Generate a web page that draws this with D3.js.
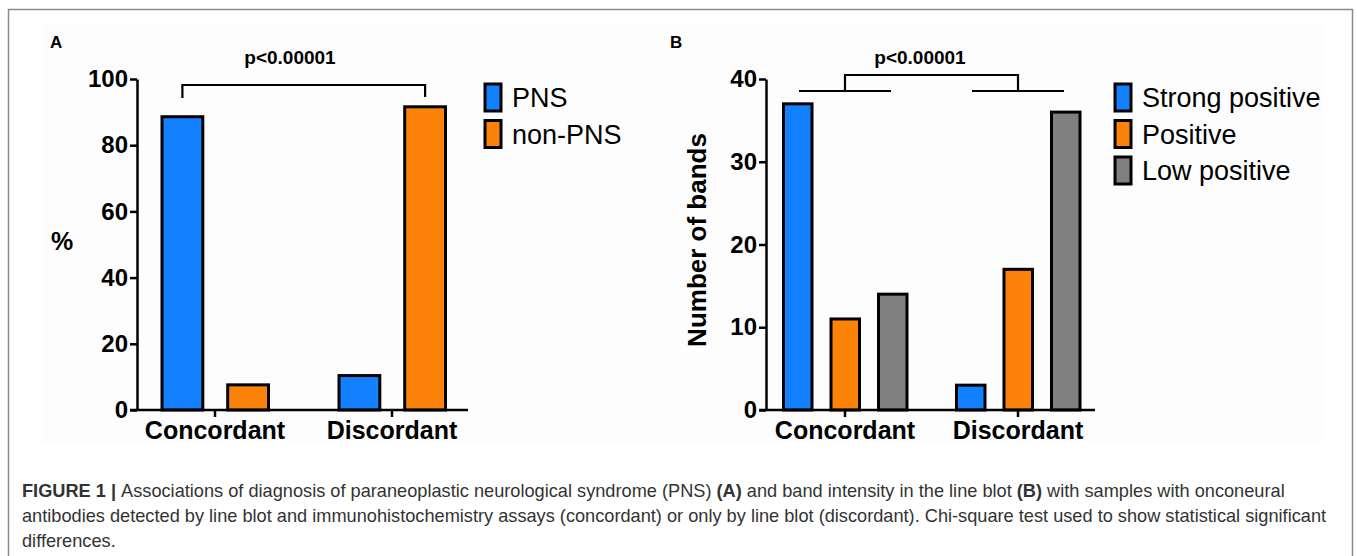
<!DOCTYPE html>
<html>
<head>
<meta charset="utf-8">
<script src="https://cdn.jsdelivr.net/npm/d3@7"></script>
<style>
  body { margin: 0; background: #fff; }
  svg { display: block; }
</style>
</head>
<body>
<div id="figure"></div>
<script>
// Panel A data
const categories = ['Concordant', 'Discordant'];
const seriesA = ['PNS', 'non-PNS'];
const pnsValues = [88.6, 10.4];
const nonPnsValues = [7.6, 91.6];
const ticksA = [0, 20, 40, 60, 80, 100];

// Panel B data
const seriesB = ['Strong positive', 'Positive', 'Low positive'];
const strongValues = [37, 3];
const positiveValues = [11, 17];
const lowValues = [14, 36];
const ticksB = [0, 10, 20, 30, 40];

const pValue = 'p<0.00001';

const colors = {
    'PNS': '#1380ff',
    'non-PNS': '#fd8209',
    'Strong positive': '#1380ff',
    'Positive': '#fd8209',
    'Low positive': '#808080'
};

const width = 1357;
const height = 556;

const svg = d3.select('#figure')
    .append('svg')
    .attr('width', width)
    .attr('height', height);

// Figure frame and faint image background
svg.append('rect')
    .attr('x', 8.5).attr('y', 9.5)
    .attr('width', 1344).attr('height', 600)
    .attr('fill', '#fff')
    .attr('stroke', '#8a8a8a')
    .attr('stroke-width', 1.5);

svg.append('rect')
    .attr('x', 42).attr('y', 25)
    .attr('width', 1280).attr('height', 418)
    .attr('fill', '#fdfdfd');

const boldFont = 'Liberation Sans, Arial, Helvetica, sans-serif';

function drawPanel(opts) {
    const g = svg.append('g');
    const y = d3.scaleLinear().domain(opts.yDomain).range([410, 79]);

    const x0 = d3.scaleBand()
        .domain(categories)
        .range(opts.xRange);

    const x1 = d3.scaleBand()
        .domain(opts.series)
        .range(opts.innerRange)
        .paddingInner(opts.innerPad);

    // Bars
    opts.series.forEach((s, si) => {
        g.selectAll('.bar-' + si)
            .data(categories.map((c, i) => ({ c: c, v: opts.values[si][i] })))
            .enter().append('rect')
            .attr('x', d => x0(d.c) + x1(s))
            .attr('y', d => y(d.v))
            .attr('width', x1.bandwidth())
            .attr('height', d => y(0) - y(d.v))
            .attr('fill', colors[s])
            .attr('stroke', '#000')
            .attr('stroke-width', 3);
    });

    // Y axis
    const yAxis = g.append('g')
        .attr('transform', `translate(${opts.axisX},0)`)
        .call(d3.axisLeft(y).tickValues(opts.ticks).tickSize(7).tickSizeOuter(0).tickPadding(2));
    yAxis.select('.domain').attr('stroke', '#000').attr('stroke-width', 2.5);
    yAxis.selectAll('.tick line').attr('stroke', '#000').attr('stroke-width', 2.5);
    yAxis.selectAll('text')
        .attr('font-family', boldFont)
        .attr('font-weight', 'bold')
        .attr('font-size', '24px')
        .attr('fill', '#000');

    // X axis
    const xAxis = g.append('g')
        .attr('transform', 'translate(0,410)')
        .call(d3.axisBottom(x0).tickSize(7).tickSizeOuter(0).tickPadding(4));
    xAxis.select('.domain')
        .attr('d', `M${opts.axisX - 7},0H${opts.xEnd}`)
        .attr('stroke', '#000').attr('stroke-width', 2.5);
    xAxis.selectAll('.tick line').attr('stroke', '#000').attr('stroke-width', 2.5);
    xAxis.selectAll('text')
        .attr('font-family', boldFont)
        .attr('font-weight', 'bold')
        .attr('font-size', '25px')
        .attr('fill', '#000');

    // Panel letter
    g.append('text')
        .attr('x', opts.letterX).attr('y', 48)
        .attr('font-family', boldFont)
        .attr('font-weight', 'bold')
        .attr('font-size', '17px')
        .text(opts.letter);

    // Significance label
    g.append('text')
        .attr('x', opts.pX).attr('y', 64)
        .attr('text-anchor', 'middle')
        .attr('font-family', boldFont)
        .attr('font-weight', 'bold')
        .attr('font-size', '19px')
        .text(pValue);

    // Legend
    const legend = g.append('g')
        .attr('transform', `translate(${opts.legendX},84)`);
    opts.series.forEach((s, i) => {
        legend.append('rect')
            .attr('x', 0).attr('y', i * 36.5)
            .attr('width', 16).attr('height', 27)
            .attr('fill', colors[s])
            .attr('stroke', '#000')
            .attr('stroke-width', 3);
        legend.append('text')
            .attr('x', 27).attr('y', i * 36.5 + 23)
            .attr('font-family', 'Liberation Sans, Arial, sans-serif')
            .attr('font-size', '27px')
            .attr('fill', '#000')
            .text(s);
    });

    return { g: g, x0: x0, x1: x1, y: y };
}

// Panel A
const panelA = drawPanel({
    letter: 'A', letterX: 50,
    series: seriesA,
    values: [pnsValues, nonPnsValues],
    yDomain: [0, 100],
    ticks: ticksA,
    axisX: 137, xEnd: 468,
    xRange: [126.5, 480.5],
    innerRange: [35.5, 142],
    innerPad: 0.379,
    pX: 290,
    legendX: 485
});

panelA.g.append('text')
    .attr('x', 62).attr('y', 250)
    .attr('text-anchor', 'middle')
    .attr('font-family', boldFont)
    .attr('font-weight', 'bold')
    .attr('font-size', '25px')
    .text('%');

// Bracket A: from top of PNS concordant to top of non-PNS discordant
const bxA1 = panelA.x0('Concordant') + panelA.x1('PNS') + panelA.x1.bandwidth() / 2;
const bxA2 = panelA.x0('Discordant') + panelA.x1('non-PNS') + panelA.x1.bandwidth() / 2;
panelA.g.append('path')
    .attr('d', `M${bxA1},98V85H${bxA2}V97`)
    .attr('fill', 'none')
    .attr('stroke', '#000')
    .attr('stroke-width', 2.2);

// Panel B
const panelB = drawPanel({
    letter: 'B', letterX: 670,
    series: seriesB,
    values: [strongValues, positiveValues, lowValues],
    yDomain: [0, 40],
    ticks: ticksB,
    axisX: 766, xEnd: 1095,
    xRange: [758.5, 1104.5],
    innerRange: [25, 148.5],
    innerPad: 0.4,
    pX: 920,
    legendX: 1115
});

panelB.g.append('text')
    .attr('transform', 'translate(706,240) rotate(-90)')
    .attr('text-anchor', 'middle')
    .attr('font-family', boldFont)
    .attr('font-weight', 'bold')
    .attr('font-size', '26px')
    .text('Number of bands');

// Bracket B: group-level comparison
const bc1 = panelB.x0('Concordant') + panelB.x0.bandwidth() / 2;
const bc2 = panelB.x0('Discordant') + panelB.x0.bandwidth() / 2;
[bc1, bc2].forEach(cx => {
    panelB.g.append('line')
        .attr('x1', cx - 46).attr('x2', cx + 46)
        .attr('y1', 91).attr('y2', 91)
        .attr('stroke', '#000').attr('stroke-width', 2.2);
});
panelB.g.append('path')
    .attr('d', `M${bc1},91V75H${bc2}V91`)
    .attr('fill', 'none')
    .attr('stroke', '#000')
    .attr('stroke-width', 2.2);

// Caption
const caption = svg.append('text')
    .attr('font-family', 'Liberation Sans, Arial, sans-serif')
    .attr('font-size', '18.2px')
    .attr('fill', '#333');

const line1 = caption.append('tspan').attr('x', 22).attr('y', 497);
line1.append('tspan').attr('font-weight', 'bold').text('FIGURE 1 | ');
line1.append('tspan').text('Associations of diagnosis of paraneoplastic neurological syndrome (PNS) ');
line1.append('tspan').attr('font-weight', 'bold').text('(A)');
line1.append('tspan').text(' and band intensity in the line blot ');
line1.append('tspan').attr('font-weight', 'bold').text('(B)');
line1.append('tspan').text(' with samples with onconeural');

caption.append('tspan').attr('x', 22).attr('y', 522)
    .text('antibodies detected by line blot and immunohistochemistry assays (concordant) or only by line blot (discordant). Chi-square test used to show statistical significant');
caption.append('tspan').attr('x', 22).attr('y', 547)
    .text('differences.');
</script>
</body>
</html>
